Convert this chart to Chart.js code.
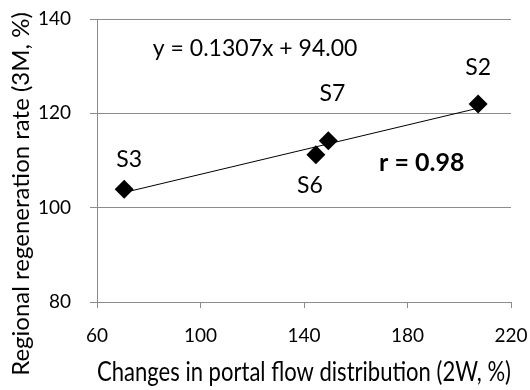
<!DOCTYPE html>
<html>
<head>
<meta charset="utf-8">
<script src="https://cdn.jsdelivr.net/npm/chart.js@4.4.0/dist/chart.umd.min.js"></script>
<style>
  html, body { margin: 0; padding: 0; background: #fff; }
  #wrap { width: 530px; height: 390px; }
</style>
</head>
<body>
<div id="wrap"><canvas id="chart" width="530" height="390"></canvas></div>
<script>
const labels = ['S3', 'S6', 'S7', 'S2'];
const flowChange = [70.5, 144.6, 149.4, 207.3];
const regenRate = [103.9, 111.2, 114.2, 122.0];
const xTicks = [60, 100, 140, 180, 220];
const yTicks = [80, 100, 120, 140];
const slope = 0.1307;
const intercept = 94.00;

const fontFamily = 'Lato, "Open Sans", sans-serif';

// trend line end points from the fit
const xMin = Math.min(...flowChange);
const xMax = Math.max(...flowChange);
const trend = [
    { x: xMin, y: slope * xMin + intercept },
    { x: xMax, y: slope * xMax + intercept }
];

// label offsets in pixels relative to each marker
const labelOffsets = { S3: [5, -30], S6: [-6, 31], S7: [4, -47], S2: [0, -36] };

const textPlugin = {
    id: 'textPlugin',
    afterDatasetsDraw(chart) {
        const ctx = chart.ctx;
        const xs = chart.scales.x;
        const ys = chart.scales.y;
        ctx.save();
        ctx.fillStyle = '#000';
        ctx.textAlign = 'center';
        ctx.textBaseline = 'middle';
        ctx.font = '23px ' + fontFamily;
        labels.forEach((name, i) => {
            const off = labelOffsets[name];
            ctx.fillText(name, xs.getPixelForValue(flowChange[i]) + off[0], ys.getPixelForValue(regenRate[i]) + off[1]);
        });
        ctx.font = '23px ' + fontFamily;
        ctx.fillText('y = 0.1307x + 94.00', xs.getPixelForValue(121.1), ys.getPixelForValue(133.8));
        ctx.font = 'bold 25px ' + fontFamily;
        ctx.fillText('r = 0.98', xs.getPixelForValue(185.5), ys.getPixelForValue(109.5));

        // y axis title, placed like the original (not centred on the plot)
        ctx.font = '24px ' + fontFamily;
        ctx.translate(21, 194);
        ctx.rotate(-Math.PI / 2);
        ctx.fillText('Regional regeneration rate (3M, %)', 0, 0);
        ctx.restore();
    }
};

new Chart(document.getElementById('chart'), {
    type: 'scatter',
    data: {
        datasets: [
            {
                type: 'line',
                data: trend,
                borderColor: '#000',
                borderWidth: 1,
                pointRadius: 0,
                fill: false
            },
            {
                data: flowChange.map((x, i) => ({ x: x, y: regenRate[i] })),
                pointStyle: 'rectRot',
                pointRadius: 9.5,
                backgroundColor: '#000',
                borderColor: '#000',
                borderWidth: 0
            }
        ]
    },
    options: {
        responsive: false,
        animation: false,
        layout: { padding: { top: 19, right: 19, left: 0, bottom: 0 } },
        plugins: {
            legend: { display: false },
            tooltip: { enabled: false }
        },
        scales: {
            x: {
                type: 'linear',
                min: 60,
                max: 220,
                afterBuildTicks: s => { s.ticks = xTicks.map(v => ({ value: v })); },
                afterFit: s => { s.height = 88; s.paddingLeft = 0; s.paddingRight = 0; },
                border: { color: '#8c8c8c', width: 1 },
                grid: { drawOnChartArea: false, drawTicks: true, tickLength: 6, color: '#8c8c8c' },
                ticks: { color: '#000', font: { family: fontFamily, size: 19 }, padding: 16, maxRotation: 0 },
                title: {
                    display: true,
                    text: 'Changes in portal flow distribution (2W, %)',
                    color: '#000',
                    font: { family: fontFamily, size: 27 },
                    padding: { top: 0, bottom: 2 }
                }
            },
            y: {
                min: 80,
                max: 140,
                afterBuildTicks: s => { s.ticks = yTicks.map(v => ({ value: v })); },
                afterFit: s => { s.width = 97; s.paddingTop = 0; s.paddingBottom = 0; },
                border: { color: '#8c8c8c', width: 1 },
                grid: { color: '#8c8c8c', drawTicks: true, tickLength: 7 },
                ticks: { color: '#000', font: { family: fontFamily, size: 19 }, padding: 19 }
            }
        }
    },
    plugins: [textPlugin]
});
</script>
</body>
</html>
